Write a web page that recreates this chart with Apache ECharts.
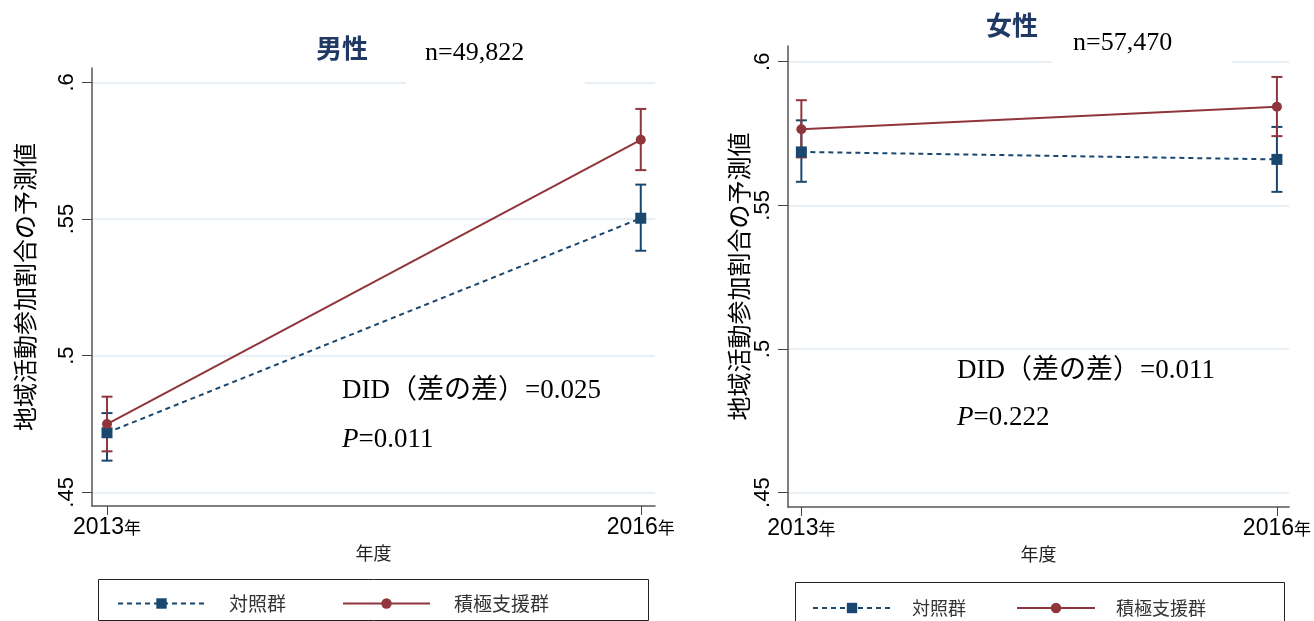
<!DOCTYPE html>
<html>
<head>
<meta charset="utf-8">
<script src="https://cdn.jsdelivr.net/npm/echarts@6/dist/echarts.min.js"></script>
<style>
    html, body { margin: 0; padding: 0; background: #ffffff; }
    #chartDom { width: 1314px; height: 621px; }
</style>
</head>
<body>
<div id="chartDom"></div>
<script>
// data
const years = [2013, 2016];
const yTicks = [0.45, 0.5, 0.55, 0.6];
const yTickLabels = [".45", ".5", ".55", ".6"];
const seriesNames = ["対照群", "積極支援群"];

// 男性
const maleControl = [0.4718, 0.5503];
const maleControlLo = [0.4616, 0.5384];
const maleControlHi = [0.479, 0.5626];
const maleActive = [0.475, 0.579];
const maleActiveLo = [0.465, 0.5679];
const maleActiveHi = [0.485, 0.5903];

// 女性
const femaleControl = [0.5686, 0.566];
const femaleControlLo = [0.5582, 0.5547];
const femaleControlHi = [0.5796, 0.5773];
const femaleActive = [0.5765, 0.5843];
const femaleActiveLo = [0.5667, 0.5741];
const femaleActiveHi = [0.5866, 0.5947];

const NAVY = "#1a476f";
const MAROON = "#90353b";
const JP = '"Noto Sans CJK JP", sans-serif';
const SERIF = '"Liberation Serif", "Noto Sans CJK JP", serif';

const myChart = echarts.init(document.getElementById("chartDom"));

function pairs(xs, ys) {
    return xs.map((x, i) => [x, ys[i]]);
}
function bars(xs, lo, hi) {
    return xs.map((x, i) => [x, lo[i], hi[i]]);
}
function errRender(params, api) {
    const lo = api.coord([api.value(0), api.value(1)]);
    const hi = api.coord([api.value(0), api.value(2)]);
    const w = 5.5;
    const style = { stroke: api.visual("color"), lineWidth: 2 };
    return {
        type: "group",
        children: [
            { type: "line", shape: { x1: lo[0], y1: lo[1], x2: hi[0], y2: hi[1] }, style: style },
            { type: "line", shape: { x1: lo[0] - w, y1: lo[1], x2: lo[0] + w, y2: lo[1] }, style: style },
            { type: "line", shape: { x1: hi[0] - w, y1: hi[1], x2: hi[0] + w, y2: hi[1] }, style: style },
        ],
    };
}
function yLabel(v) {
    const i = yTicks.findIndex((t) => Math.abs(t - v) < 1e-6);
    return i >= 0 ? yTickLabels[i] : "";
}

function xAxisFor(idx, min, max) {
    return {
        gridIndex: idx,
        type: "value",
        min: min,
        max: max,
        name: "年度",
        nameLocation: "middle",
        nameGap: 38,
        nameTextStyle: { fontFamily: JP, fontSize: 18, color: "#222" },
        axisLine: { show: true, onZero: false, lineStyle: { color: "#555", width: 1.5 } },
        axisTick: { show: true, length: 9, customValues: years, lineStyle: { color: "#444", width: 1 } },
        axisLabel: {
            customValues: years,
            margin: 10,
            formatter: (v) => "{d|" + v + "}{y|年}",
            rich: {
                d: { fontFamily: "Liberation Sans", fontSize: 23, color: "#000" },
                y: { fontFamily: JP, fontSize: 17, color: "#000" },
            },
        },
        splitLine: { show: false },
    };
}
function yAxisFor(idx, min, max, gap) {
    return {
        gridIndex: idx,
        type: "value",
        min: min,
        max: max,
        name: "地域活動参加割合の予測値",
        nameLocation: "middle",
        nameGap: gap,
        nameTextStyle: { fontFamily: JP, fontSize: 24, color: "#000" },
        axisLine: { show: true, lineStyle: { color: "#555", width: 1.5 } },
        axisTick: { show: true, length: 10, customValues: yTicks, lineStyle: { color: "#444", width: 1 } },
        axisLabel: {
            customValues: yTicks,
            rotate: 90,
            margin: 14,
            fontFamily: "Liberation Sans",
            fontSize: 22,
            color: "#000",
            formatter: yLabel,
        },
        splitLine: { show: true, lineStyle: { color: "#e8eff5", width: 2 } },
    };
}

function panelSeries(idx, ctrl, ctrlLo, ctrlHi, act, actLo, actHi) {
    return [
        {
            type: "custom",
            name: seriesNames[0] + "CI",
            xAxisIndex: idx,
            yAxisIndex: idx,
            renderItem: errRender,
            itemStyle: { color: NAVY },
            data: bars(years, ctrlLo, ctrlHi),
            z: 3,
        },
        {
            type: "custom",
            name: seriesNames[1] + "CI",
            xAxisIndex: idx,
            yAxisIndex: idx,
            renderItem: errRender,
            itemStyle: { color: MAROON },
            data: bars(years, actLo, actHi),
            z: 3,
        },
        {
            type: "line",
            name: seriesNames[0],
            xAxisIndex: idx,
            yAxisIndex: idx,
            symbol: "rect",
            symbolSize: 11,
            showAllSymbol: true,
            itemStyle: { color: NAVY },
            lineStyle: { color: NAVY, width: 2, type: [5, 4] },
            data: pairs(years, ctrl),
            z: 4,
        },
        {
            type: "line",
            name: seriesNames[1],
            xAxisIndex: idx,
            yAxisIndex: idx,
            symbol: "circle",
            symbolSize: 10,
            showAllSymbol: true,
            itemStyle: { color: MAROON },
            lineStyle: { color: MAROON, width: 2 },
            data: pairs(years, act),
            z: 5,
        },
    ];
}

function legendFor(left, top, iconW, gap, pad, fs) {
    return {
        left: left,
        top: top,
        itemWidth: iconW,
        itemHeight: 13,
        itemGap: gap,
        selectedMode: false,
        data: seriesNames,
        lineStyle: { width: 2 },
        textStyle: { fontFamily: JP, fontSize: fs, color: "#333", padding: [0, 0, 0, pad] },
    };
}

function txt(x, y, text, font, color, extra) {
    return {
        type: "text",
        x: x,
        y: y,
        z: 110,
        style: Object.assign({ text: text, font: font, fill: color, verticalAlign: "middle" }, extra || {}),
    };
}

const option = {
    backgroundColor: "#ffffff",
    animation: false,
    grid: [
        { left: 92, top: 68, width: 563, height: 438 },
        { left: 788, top: 46, width: 503, height: 461 },
    ],
    xAxis: [xAxisFor(0, 2012.9157, 2016.08), xAxisFor(1, 2012.9157, 2016.077)],
    yAxis: [yAxisFor(0, 0.445, 0.60527, 55), yAxisFor(1, 0.445, 0.60547, 33)],
    legend: [
        legendFor(112, 589, 87, 56, 19, 19),
        legendFor(807, 594, 78, 50, 16, 18),
    ],
    graphic: [
        // white boxes behind the n= labels
        { type: "rect", z: 100, shape: { x: 406, y: 34, width: 179, height: 52 }, style: { fill: "#ffffff" } },
        { type: "rect", z: 100, shape: { x: 1052, y: 22, width: 180, height: 43 }, style: { fill: "#ffffff" } },
        // legend frames
        { type: "rect", z: 100, shape: { x: 98.5, y: 579.5, width: 550, height: 41 }, style: { fill: "none", stroke: "#222", lineWidth: 1 } },
        { type: "rect", z: 100, shape: { x: 795.5, y: 582.5, width: 489, height: 45 }, style: { fill: "none", stroke: "#222", lineWidth: 1 } },
        // titles
        txt(342, 48, "男性", "bold 26px " + JP, "#1f3864", { align: "center" }),
        txt(1012, 25, "女性", "bold 26px " + JP, "#1f3864", { align: "center" }),
        txt(425, 53, "n=49,822", "26px " + SERIF, "#000"),
        txt(1073, 43, "n=57,470", "26px " + SERIF, "#000"),
        // annotations
        txt(342, 391, "DID（差の差）=0.025", "27px " + SERIF, "#000"),
        txt(342, 440, "{i|P}=0.011", "27px " + SERIF, "#000", {
            rich: { i: { fontStyle: "italic", fontFamily: "Liberation Serif", fontSize: 27 } },
        }),
        txt(957, 371, "DID（差の差）=0.011", "27px " + SERIF, "#000"),
        txt(957, 418, "{i|P}=0.222", "27px " + SERIF, "#000", {
            rich: { i: { fontStyle: "italic", fontFamily: "Liberation Serif", fontSize: 27 } },
        }),
    ],
    series: [
        ...panelSeries(0, maleControl, maleControlLo, maleControlHi, maleActive, maleActiveLo, maleActiveHi),
        ...panelSeries(1, femaleControl, femaleControlLo, femaleControlHi, femaleActive, femaleActiveLo, femaleActiveHi),
    ],
};
option && myChart.setOption(option);
</script>
</body>
</html>
